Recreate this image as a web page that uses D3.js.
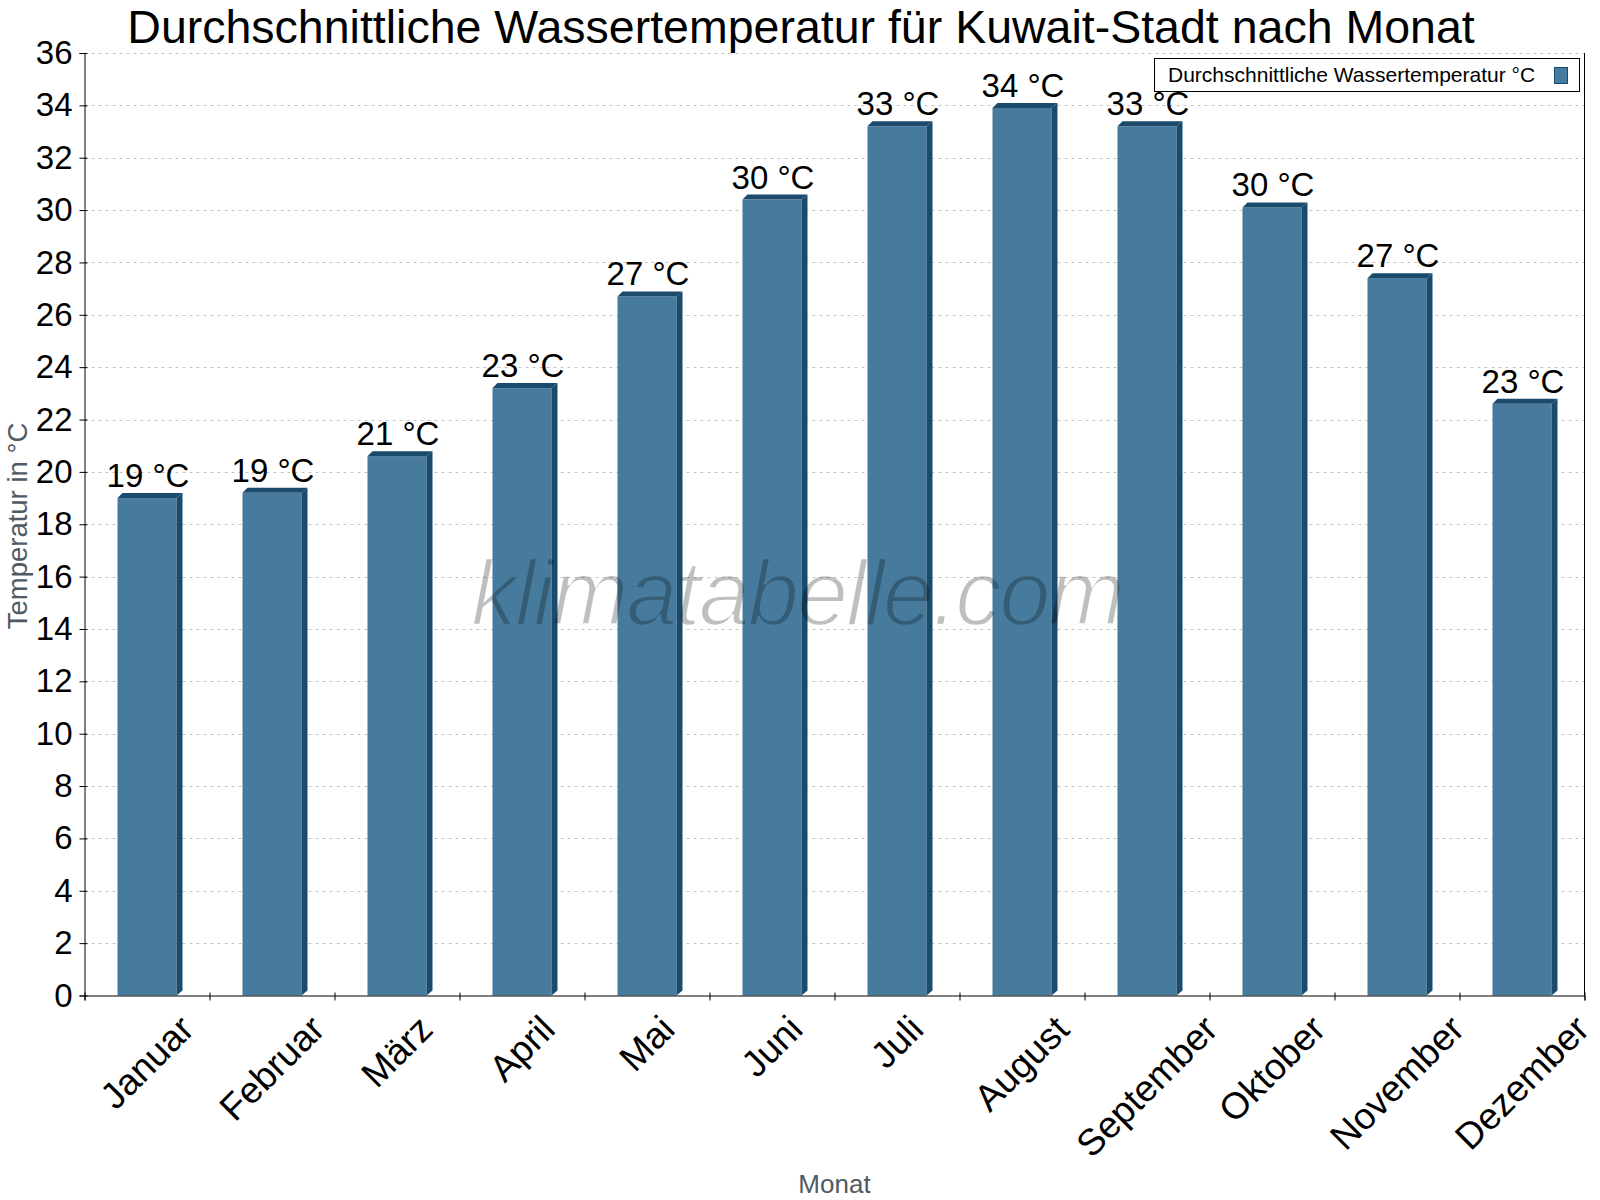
<!DOCTYPE html>
<html>
<head>
<meta charset="utf-8">
<script src="https://cdn.jsdelivr.net/npm/d3@7"></script>
<style>
  body { margin: 0; background: #fff; }
  svg { display: block; }
  text { font-family: "Liberation Sans", Arial, Helvetica, sans-serif; }
</style>
</head>
<body>
<svg id="chart" width="1600" height="1200"></svg>
<script>
// data
const months = ["Januar", "Februar", "März", "April", "Mai", "Juni", "Juli",
                "August", "September", "Oktober", "November", "Dezember"];
const waterTemp = [19.0, 19.2, 20.6, 23.2, 26.7, 30.4, 33.2, 33.9, 33.2, 30.1, 27.4, 22.6];
const yTicks = [0, 2, 4, 6, 8, 10, 12, 14, 16, 18, 20, 22, 24, 26, 28, 30, 32, 34, 36];
const seriesName = "Durchschnittliche Wassertemperatur °C";
const title = "Durchschnittliche Wassertemperatur für Kuwait-Stadt nach Monat";

const plot = {left: 84.5, right: 1584.5, top: 53, bottom: 995.5};
const frontCol = "#467b9d", darkCol = "#1a4a6c";
const depthX = 6, depthY = 5;

const svg = d3.select("#chart");

// scales
var x = d3.scaleBand()
  .domain(months)
  .range([plot.left, plot.right])
  .paddingInner(0.528)
  .paddingOuter(0.264);
var y = d3.scaleLinear()
  .domain([0, 36])
  .range([plot.bottom, plot.top]);
var xEdges = d3.scaleLinear()
  .domain([0, months.length])
  .range([plot.left, plot.right]);

// grid
svg.append("g").selectAll("line")
  .data(yTicks.filter(t => t > 0))
  .enter().append("line")
  .attr("x1", plot.left).attr("x2", plot.right)
  .attr("y1", d => Math.round(y(d)) + 0.5).attr("y2", d => Math.round(y(d)) + 0.5)
  .attr("stroke", "#c4c4c4")
  .attr("stroke-dasharray", "3,4");

// bars (fake 3d like the original)
const bw = x.bandwidth();
const bars = svg.append("g");
months.forEach((m, i) => {
  let x0 = x(m), x1 = x0 + bw;
  let yt = y(waterTemp[i]), yb = y(0);
  bars.append("rect")
    .attr("x", x0).attr("y", yt)
    .attr("width", bw).attr("height", yb - yt)
    .attr("fill", frontCol);
  bars.append("polygon")
    .attr("points", [[x0, yt], [x0 + depthY, yt - depthY], [x1 + depthX, yt - depthY], [x1, yt]].join(" "))
    .attr("fill", darkCol);
  bars.append("polygon")
    .attr("points", [[x1, yt], [x1 + depthX, yt - depthY], [x1 + depthX, yb - depthY], [x1, yb]].join(" "))
    .attr("fill", darkCol);
  bars.append("text")
    .attr("x", x0 + bw / 2 + 1)
    .attr("y", yt - 11)
    .attr("text-anchor", "middle")
    .attr("font-size", 33)
    .attr("fill", "#000")
    .text(Math.round(waterTemp[i]) + " °C");
});

// y axis
var yAxis = d3.axisLeft(y).tickValues(yTicks).tickSizeOuter(0).tickSize(5).tickPadding(7);
var yAxisEl = svg.append("g")
  .attr("transform", `translate(${plot.left},0)`)
  .call(yAxis);
yAxisEl.selectAll(".tick line").attr("x1", 3).attr("stroke", "#000");
yAxisEl.select(".domain").attr("stroke", "#000");
yAxisEl.selectAll(".tick text")
  .attr("font-size", 33)
  .attr("font-family", '"Liberation Sans", Arial, sans-serif')
  .attr("fill", "#000");

// x axis: ticks on the band edges, labels drawn below
var xAxis = d3.axisBottom(xEdges).ticks(months.length).tickFormat("").tickSizeOuter(0).tickSize(5);
var xAxisEl = svg.append("g")
  .attr("transform", `translate(0,${plot.bottom})`)
  .call(xAxis);
xAxisEl.selectAll(".tick line").attr("y1", -3).attr("stroke", "#000");
xAxisEl.select(".domain").attr("stroke", "#000");

// right frame line
svg.append("line")
  .attr("x1", plot.right).attr("x2", plot.right)
  .attr("y1", plot.top).attr("y2", plot.bottom)
  .attr("stroke", "#000");

// rotated month labels, box centered on the band, top at fixed line
const labelTop = 1008;
const labs = svg.append("g");
months.forEach(m => {
  let cx = x(m) + bw / 2;
  let t = labs.append("text")
    .attr("x", 0).attr("y", 0)
    .attr("text-anchor", "middle")
    .attr("font-size", 37)
    .attr("fill", "#000")
    .attr("transform", "rotate(-45)")
    .text(m);
  let r = t.node().getBoundingClientRect();
  let dx = cx - (r.left + r.width / 2);
  let dy = labelTop - r.top;
  t.attr("transform", `translate(${dx},${dy}) rotate(-45)`);
});

// axis titles
svg.append("text")
  .attr("x", (plot.left + plot.right) / 2)
  .attr("y", 1193)
  .attr("text-anchor", "middle")
  .attr("font-size", 26)
  .attr("fill", "#505a64")
  .text("Monat");
svg.append("text")
  .attr("transform", "translate(27,526) rotate(-90)")
  .attr("text-anchor", "middle")
  .attr("font-size", 27.5)
  .attr("fill", "#505a64")
  .text("Temperatur in °C");

// title
svg.append("text")
  .attr("x", 801)
  .attr("y", 42.5)
  .attr("text-anchor", "middle")
  .attr("font-size", 46.5)
  .attr("fill", "#000")
  .text(title);

// legend
var legend = svg.append("g").attr("id", "legend");
legend.append("rect")
  .attr("x", 1154.5).attr("y", 58.5)
  .attr("width", 425).attr("height", 33)
  .attr("fill", "#fff").attr("stroke", "#000");
legend.append("text")
  .attr("x", 1168).attr("y", 82)
  .attr("font-size", 21)
  .attr("fill", "#000")
  .text(seriesName);
legend.append("rect")
  .attr("x", 1554.5).attr("y", 67.5)
  .attr("width", 13).attr("height", 16)
  .attr("fill", frontCol).attr("stroke", darkCol);

// watermark: thin italic, glyphs thinned with a mask
var defs = svg.append("defs");
defs.append("mask").attr("id", "wmMask")
  .attr("maskUnits", "userSpaceOnUse")
  .attr("x", 0).attr("y", 0).attr("width", 1600).attr("height", 1200)
  .append("text")
  .attr("x", 798)
  .attr("y", 625)
  .attr("text-anchor", "middle")
  .attr("font-family", "Roboto, sans-serif")
  .attr("font-style", "italic")
  .attr("font-size", 92)
  .attr("textLength", 654)
  .attr("lengthAdjust", "spacing")
  .attr("fill", "#fff")
  .attr("stroke", "#000")
  .attr("stroke-width", 2.6)
  .text("klimatabelle.com");
svg.append("rect")
  .attr("x", 0).attr("y", 0).attr("width", 1600).attr("height", 1200)
  .attr("fill", "#000")
  .attr("fill-opacity", 0.25)
  .attr("mask", "url(#wmMask)");
</script>
</body>
</html>
